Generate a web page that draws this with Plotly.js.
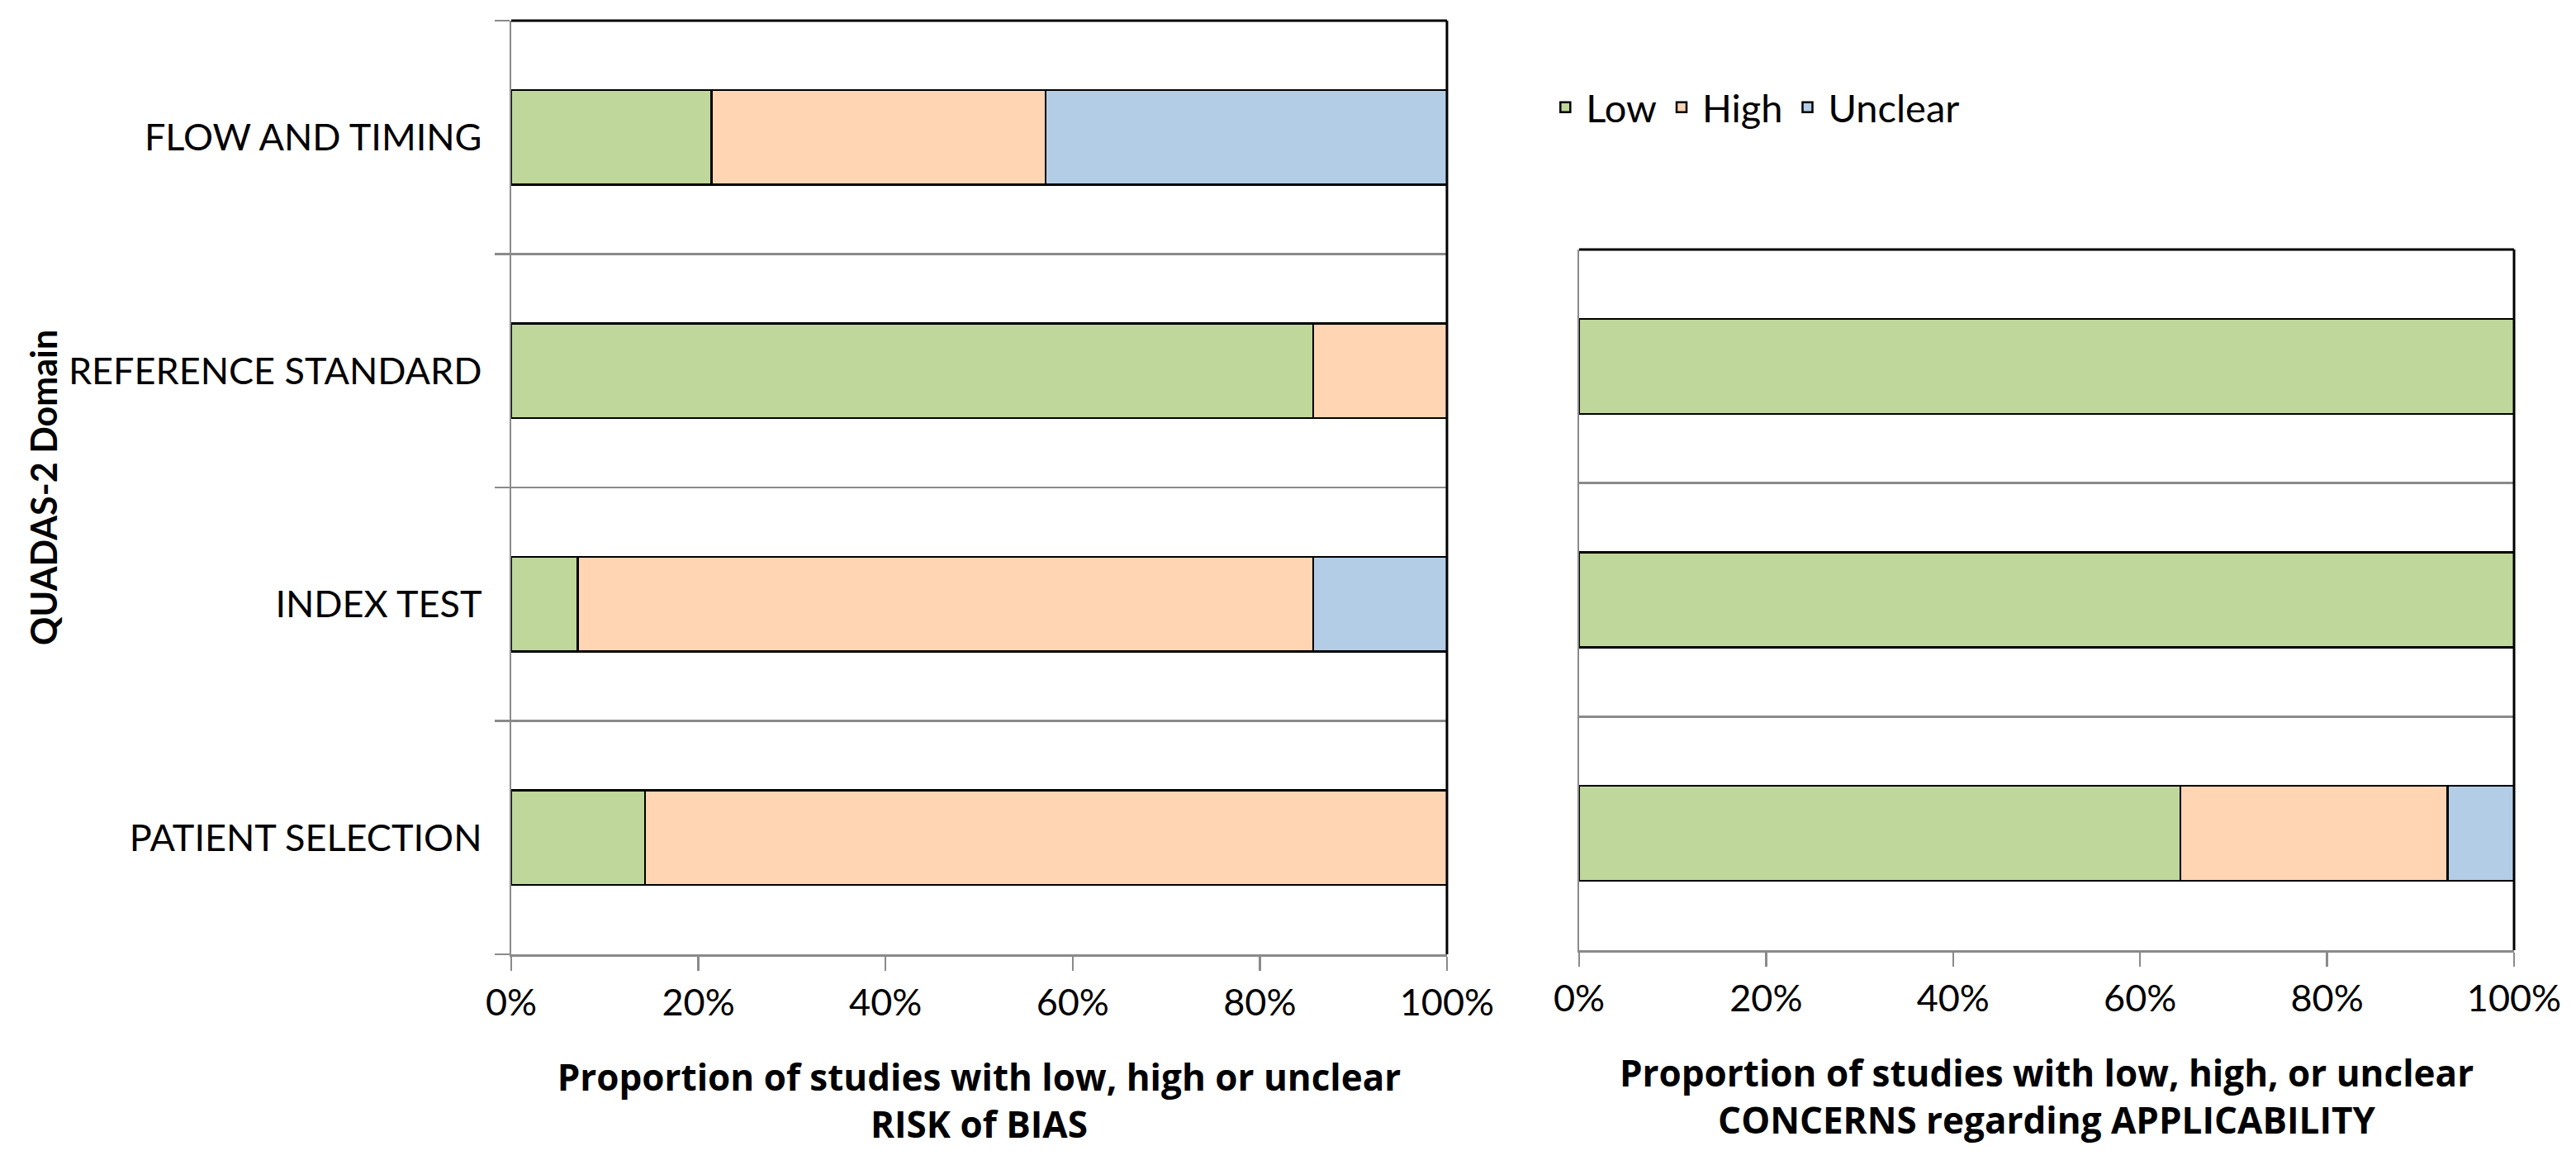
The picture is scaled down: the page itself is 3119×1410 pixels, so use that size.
<!DOCTYPE html>
<html>
<head>
<meta charset="utf-8">
<script src="https://cdn.plot.ly/plotly-3.0.1.min.js"></script>
<style>html,body{margin:0;padding:0;background:#fff;}#chart{width:3119px;height:1410px;}</style>
</head>
<body>
<div id="chart"></div>
<script>
// ---- data ----
const biasDomains = ["PATIENT SELECTION", "INDEX TEST", "REFERENCE STANDARD", "FLOW AND TIMING"];
const biasLow     = [14.3, 7.1, 85.7, 21.4];
const biasHigh    = [85.7, 78.6, 14.3, 35.7];
const biasUnclear = [0, 14.3, 0, 42.9];

const applDomains = ["PATIENT SELECTION", "INDEX TEST", "REFERENCE STANDARD"];
const applLow     = [64.3, 100, 100];
const applHigh    = [28.6, 0, 0];
const applUnclear = [7.1, 0, 0];

const seriesNames = ["Low", "High", "Unclear"];
const xTickVals   = [0, 20, 40, 60, 80, 100];
const xTickLabels = ["0%", "20%", "40%", "60%", "80%", "100%"];

// ---- styles ----
const colors = ["#BFD79B", "#FFD5B3", "#B3CDE6"];
const FONT = "Lato, 'Open Sans', 'DejaVu Sans', sans-serif";
const TFONT = "'Open Sans', Lato, 'DejaVu Sans', sans-serif";
const outline = {color: "#000000", width: 2.5};
const GRAY = "#8a8a8a";

function bar(name, x, y, i, xa, ya, showLegend) {
  return {
    type: "bar", orientation: "h", name: name, x: x, y: y,
    xaxis: xa, yaxis: ya, legendgroup: name, showlegend: showLegend,
    marker: {color: colors[i], line: outline},
    hoverinfo: "skip"
  };
}

const traces = [
  bar(seriesNames[0], biasLow, biasDomains, 0, "x", "y", true),
  bar(seriesNames[1], biasHigh, biasDomains, 1, "x", "y", true),
  bar(seriesNames[2], biasUnclear, biasDomains, 2, "x", "y", true),
  bar(seriesNames[0], applLow, applDomains, 0, "x2", "y2", false),
  bar(seriesNames[1], applHigh, applDomains, 1, "x2", "y2", false),
  bar(seriesNames[2], applUnclear, applDomains, 2, "x2", "y2", false)
];

const xAxisBase = {
  range: [0, 100], tickmode: "array", tickvals: xTickVals, ticktext: xTickLabels,
  showgrid: false, zeroline: false, fixedrange: true,
  showline: true, linecolor: GRAY, linewidth: 2.5,
  ticks: "outside", ticklen: 17, tickwidth: 2.5, tickcolor: GRAY,
  ticklabelstandoff: 0,
  tickfont: {family: FONT, size: 45, color: "#000"}
};

const layout = {
  width: 3119, height: 1410,
  margin: {l: 619, r: 75, t: 25, b: 255},
  paper_bgcolor: "#ffffff", plot_bgcolor: "#ffffff",
  barmode: "stack", bargap: 0.593,
  font: {family: FONT, color: "#000"},
  showlegend: true,
  legend: {
    orientation: "h", x: 0.516, xanchor: "left", y: 0.907, yanchor: "middle",
    font: {family: FONT, size: 47, color: "#000"}, traceorder: "normal",
    itemwidth: 40,
    bgcolor: "rgba(0,0,0,0)", itemclick: false, itemdoubleclick: false
  },
  xaxis: Object.assign({}, xAxisBase, {
    domain: [0, 0.4672], anchor: "y",
    title: {text: "Proportion of studies with low, high or unclear<br>RISK of BIAS",
            font: {family: TFONT, size: 44, weight: "bold", color: "#000"}, standoff: 52}
  }),
  yaxis: {
    domain: [0, 1], anchor: "x", type: "category",
    categoryorder: "array", categoryarray: biasDomains,
    tickson: "boundaries", ticks: "outside", ticklen: 18, tickwidth: 2.5, tickcolor: GRAY,
    showgrid: true, gridcolor: GRAY, gridwidth: 2.5,
    showline: true, linecolor: GRAY, linewidth: 2.5, zeroline: false, fixedrange: true,
    ticklabelstandoff: 24,
    tickfont: {family: FONT, size: 45, color: "#000"},
    title: {text: "QUADAS-2 Domain", font: {family: FONT, size: 43, weight: "bold", color: "#000"}, standoff: 0}
  },
  xaxis2: Object.assign({}, xAxisBase, {
    domain: [0.5332, 1], anchor: "y2",
    title: {text: "Proportion of studies with low, high, or unclear<br>CONCERNS regarding APPLICABILITY",
            font: {family: TFONT, size: 44, weight: "bold", color: "#000"}, standoff: 52}
  }),
  yaxis2: {
    domain: [0.0044, 0.7549], anchor: "x2", type: "category",
    categoryorder: "array", categoryarray: applDomains,
    tickson: "boundaries", ticks: "", showticklabels: false,
    showgrid: true, gridcolor: GRAY, gridwidth: 2.5,
    showline: true, linecolor: GRAY, linewidth: 2.5, zeroline: false, fixedrange: true
  },
  shapes: [
    {type: "line", xref: "x domain", yref: "y domain", x0: 0, x1: 1, y0: 1, y1: 1, line: {color: "#000", width: 3}},
    {type: "line", xref: "x domain", yref: "y domain", x0: 1, x1: 1, y0: 0, y1: 1, line: {color: "#000", width: 3}},
    {type: "line", xref: "x2 domain", yref: "y2 domain", x0: 0, x1: 1, y0: 1, y1: 1, line: {color: "#000", width: 3}},
    {type: "line", xref: "x2 domain", yref: "y2 domain", x0: 1, x1: 1, y0: 0, y1: 1, line: {color: "#000", width: 3}}
  ]
};

Plotly.newPlot("chart", traces, layout, {displayModeBar: false, responsive: false, staticPlot: true});
</script>
</body>
</html>
